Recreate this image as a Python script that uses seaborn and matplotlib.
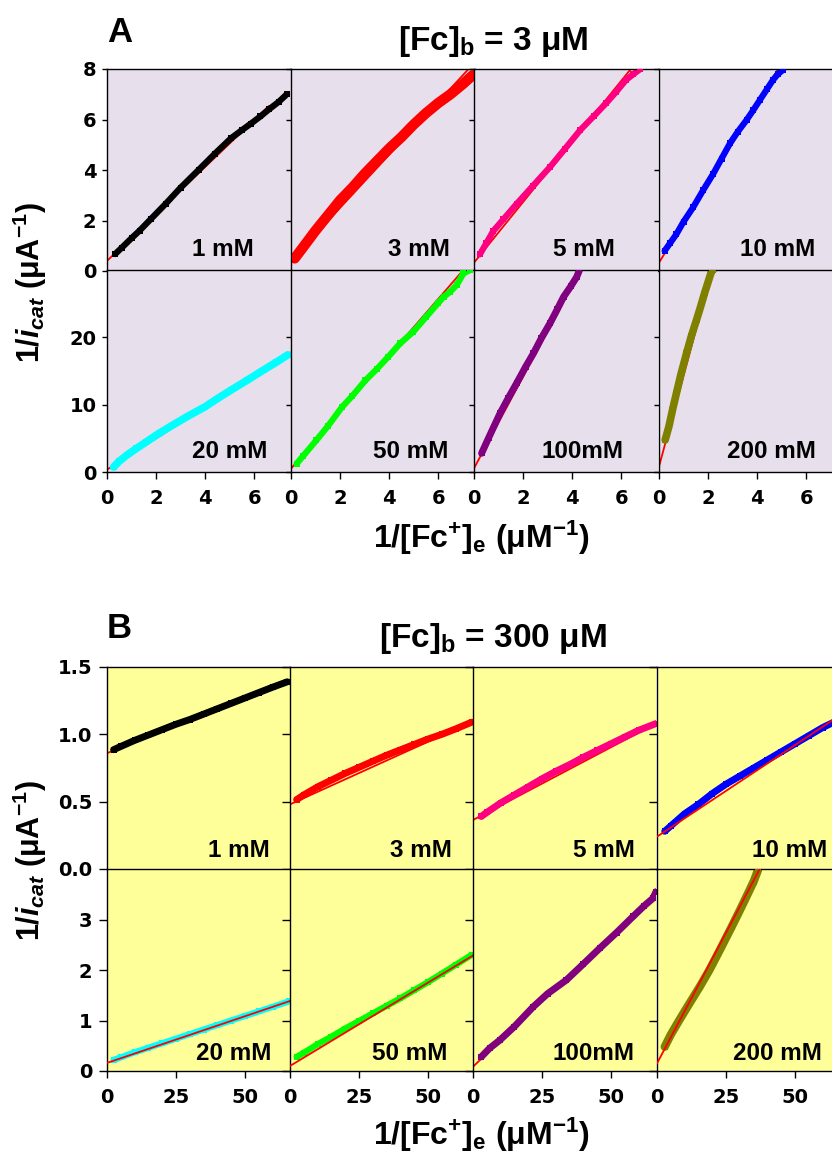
import matplotlib
matplotlib.use("Agg")
import matplotlib.pyplot as plt
import pandas as pd
import seaborn as sns

sns.set_theme(style="ticks")
plt.rcParams["font.family"] = ["Liberation Sans", "DejaVu Sans"]
plt.rcParams["font.weight"] = "bold"
plt.rcParams["mathtext.fontset"] = "custom"
plt.rcParams["mathtext.rm"] = "Liberation Sans:bold"
plt.rcParams["mathtext.it"] = "Liberation Sans:bold:italic"
plt.rcParams["mathtext.bf"] = "Liberation Sans:bold"
plt.rcParams["axes.edgecolor"] = "black"
plt.rcParams["axes.linewidth"] = 1.0
plt.rcParams["xtick.color"] = "black"
plt.rcParams["ytick.color"] = "black"
plt.rcParams["text.color"] = "black"
plt.rcParams["axes.labelcolor"] = "black"

# ---------------- data ----------------
conc_labels = ["1 mM", "3 mM", "5 mM", "10 mM", "20 mM", "50 mM", "100mM", "200 mM"]
series_colors = ["#000000", "#FF0000", "#FF0080", "#0000FF",
                 "#00FFFF", "#00FF00", "#800080", "#808000"]

# Panel A : [Fc]b = 3 uM
a1_x = [0.33, 0.6, 1.0, 1.33, 1.8, 2.4, 3.0, 3.73, 4.4, 5.07, 5.5, 5.87, 6.25, 6.6, 7.0, 7.33]
a1_y = [0.67, 0.92, 1.3, 1.6, 2.07, 2.67, 3.3, 4.0, 4.65, 5.27, 5.58, 5.84, 6.12, 6.4, 6.7, 7.0]
a3_x = [0.15, 0.5, 1.0, 1.5, 2.0, 2.5, 3.0, 3.5, 4.0, 4.5, 5.0, 5.5, 6.0, 6.5, 7.0, 7.4]
a3_y = [0.5, 0.95, 1.6, 2.2, 2.8, 3.3, 3.85, 4.35, 4.85, 5.3, 5.8, 6.25, 6.65, 7.0, 7.4, 7.75]
a5_x = [0.24, 0.5, 0.79, 1.2, 1.74, 2.4, 3.1, 3.7, 4.33, 4.9, 5.38, 5.8, 6.2, 6.5, 6.78]
a5_y = [0.66, 1.1, 1.59, 2.05, 2.66, 3.37, 4.12, 4.83, 5.58, 6.15, 6.64, 7.1, 7.57, 7.8, 8.0]
a10_x = [0.23, 0.45, 0.71, 1.0, 1.39, 1.8, 2.21, 2.55, 2.89, 3.2, 3.57, 3.85, 4.11, 4.4, 4.65, 4.85, 5.06]
a10_y = [0.8, 1.1, 1.46, 1.95, 2.52, 3.2, 3.85, 4.45, 5.05, 5.5, 5.98, 6.38, 6.77, 7.2, 7.57, 7.8, 7.97]
a20_x = [0.27, 0.5, 0.8, 1.2, 1.6, 2.1, 2.67, 3.3, 4.0, 4.5, 5.07, 5.7, 6.4, 6.9, 7.37]
a20_y = [0.74, 1.6, 2.48, 3.5, 4.47, 5.7, 6.95, 8.3, 9.7, 10.9, 12.2, 13.6, 15.2, 16.3, 17.4]
a50_x = [0.23, 0.5, 1.03, 1.5, 2.09, 2.5, 3.03, 3.5, 3.96, 4.45, 4.99, 5.5, 6.0, 6.22, 6.5, 6.76, 7.03, 7.3]
a50_y = [1.24, 2.4, 4.7, 6.8, 9.7, 11.3, 13.6, 15.3, 17.1, 19.1, 20.85, 23.0, 25.1, 26.0, 26.8, 27.8, 29.5, 30.0]
a100_x = [0.31, 0.6, 1.06, 1.4, 1.74, 2.1, 2.42, 2.75, 3.1, 3.4, 3.65, 3.95, 4.19, 4.3]
a100_y = [2.78, 5.1, 8.7, 11.0, 13.2, 15.6, 17.6, 19.9, 22.1, 24.2, 26.0, 27.6, 29.0, 30.0]
a200_x = [0.25, 0.4, 0.55, 0.71, 0.9, 1.12, 1.32, 1.53, 1.7, 1.86, 2.0, 2.14, 2.2]
a200_y = [4.75, 6.7, 9.2, 11.7, 14.6, 17.6, 20.2, 22.6, 24.6, 26.6, 28.2, 29.8, 30.0]

a_fit_intercept = [0.4, 0.4, 0.33, 0.33, 0.35, 0.5, 0.55, 0.8]
a_fit_slope = [0.93, 1.05, 1.2, 1.58, 2.32, 4.2, 6.8, 13.5]
a_fit_xend = [6.6, 7.2, 6.4, 4.84, 7.5, 7.02, 4.33, 2.15]

# Panel B : [Fc]b = 300 uM
b1_x = [2.4, 5, 10, 15, 20, 25, 30, 35, 40, 45, 50, 55, 60, 65.3]
b1_y = [0.886, 0.91, 0.955, 0.995, 1.035, 1.075, 1.11, 1.15, 1.19, 1.23, 1.27, 1.31, 1.35, 1.39]
b3_x = [2.4, 5, 10, 15, 20, 25, 30, 35, 40, 45, 50, 55, 60, 65.8]
b3_y = [0.515, 0.55, 0.61, 0.66, 0.71, 0.755, 0.80, 0.845, 0.885, 0.925, 0.965, 1.0, 1.04, 1.09]
b5_x = [3, 5, 10, 15, 20, 25, 30, 35, 40, 45, 50, 55, 60, 66.3]
b5_y = [0.39, 0.42, 0.49, 0.55, 0.61, 0.67, 0.725, 0.775, 0.83, 0.88, 0.93, 0.98, 1.03, 1.08]
b10_x = [2.8, 5, 10, 15, 20, 25, 30, 35, 40, 45, 50, 55, 60, 65]
b10_y = [0.28, 0.32, 0.41, 0.48, 0.56, 0.63, 0.69, 0.75, 0.81, 0.87, 0.93, 0.99, 1.05, 1.1]
b20_x = [2.4, 5, 10, 15, 20, 25, 30, 35, 40, 45, 50, 55, 60, 66]
b20_y = [0.22, 0.27, 0.37, 0.46, 0.55, 0.64, 0.73, 0.82, 0.91, 1.0, 1.09, 1.18, 1.27, 1.38]
b50_x = [2.4, 5, 10, 15, 20, 25, 30, 35, 40, 45, 50, 55, 60, 65.8]
b50_y = [0.28, 0.36, 0.53, 0.68, 0.84, 0.99, 1.14, 1.29, 1.44, 1.60, 1.76, 1.93, 2.10, 2.30]
b100_x = [3, 6, 9.7, 15, 21.8, 27, 33.8, 40, 45.9, 52, 58, 62, 65.2, 66.3]
b100_y = [0.28, 0.45, 0.61, 0.88, 1.27, 1.53, 1.80, 2.12, 2.43, 2.74, 3.06, 3.27, 3.42, 3.55]
b200_x = [2.8, 5, 8, 11, 15.5, 19, 23, 27, 30, 33, 35, 36.6]
b200_y = [0.48, 0.72, 1.0, 1.27, 1.67, 2.0, 2.42, 2.85, 3.18, 3.52, 3.75, 3.98]

b_fit_intercept = [0.86, 0.48, 0.364, 0.24, 0.16, 0.10, 0.085, 0.15]
b_fit_slope = [0.0081, 0.0093, 0.0108, 0.0136, 0.0185, 0.033, 0.052, 0.1035]
b_fit_xend = [66.3, 66.3, 66.3, 66.3, 66.3, 66.3, 66.3, 37.2]

# tick labels
a_xticks = [0, 2, 4, 6]
a_yticks_top = [0, 2, 4, 6, 8]
a_yticks_bot = [0, 10, 20]
b_xticks = [0, 25, 50]
b_yticks_top = [0.0, 0.5, 1.0, 1.5]
b_ytick_labels_top = ["0.0", "0.5", "1.0", "1.5"]
b_yticks_bot = [0, 1, 2, 3]

# ---------------- layout (pixels) ----------------
W, H = 832, 1158
a_series = [(a1_x, a1_y), (a3_x, a3_y), (a5_x, a5_y), (a10_x, a10_y),
            (a20_x, a20_y), (a50_x, a50_y), (a100_x, a100_y), (a200_x, a200_y)]
b_series = [(b1_x, b1_y), (b3_x, b3_y), (b5_x, b5_y), (b10_x, b10_y),
            (b20_x, b20_y), (b50_x, b50_y), (b100_x, b100_y), (b200_x, b200_y)]

a_cols = [107, 291, 474, 659]
a_colw = 184
a_rows = [69, 270]
a_rowh = 202
b_cols = [107, 290, 473, 657]
b_colw = 183
b_rows = [667, 869]
b_rowh = 202

a_band = [4.5, 7.5, 4.5, 4.5, 5.5, 4.5, 5.0, 5.5]
b_band = [5.0, 5.0, 5.0, 5.0, 4.5, 4.5, 5.0, 6.0]
b_fit_top = [False, False, False, True, True, True, False, True]

a_lab_x = [0.80, 0.865, 0.766, 0.851, 0.87, 0.853, 0.81, 0.85]
a_lab_y = [0.075, 0.075, 0.075, 0.075, 0.07, 0.07, 0.07, 0.07]
b_lab_x = [0.89, 0.885, 0.885, 0.93, 0.90, 0.86, 0.885, 0.90]
b_lab_y = [0.06, 0.06, 0.06, 0.06, 0.055, 0.055, 0.055, 0.055]

fig = plt.figure(figsize=(W / 100, H / 100), dpi=100)


def rect(l, t, w, h):
    return [l / W, 1 - (t + h) / H, w / W, h / H]


def draw_panel(ax, xs, ys, color, band, b0, m, xend, fit_top):
    df = pd.DataFrame({"x": xs, "y": ys})
    sns.lineplot(data=df, x="x", y="y", ax=ax, color=color, lw=band,
                 sort=False, estimator=None, zorder=2)
    sns.scatterplot(data=df, x="x", y="y", ax=ax, color=color, marker="s",
                    s=22, linewidth=0, zorder=3)
    fit = pd.DataFrame({"x": [0.0, xend], "y": [b0, b0 + m * xend]})
    sns.lineplot(data=fit, x="x", y="y", ax=ax, color="red", lw=1.3,
                 sort=False, estimator=None, zorder=4 if fit_top else 1.5)
    ax.set_xlabel("")
    ax.set_ylabel("")


def build(cols, colw, rows, rowh, series, fit_b, fit_m, fit_x, bands, fit_top,
          bg, xlim, ylims, xticks, yticks, ytlabels, labx, laby, ylen, xlen, ypad, xpad):
    for i in range(8):
        r, c = divmod(i, 4)
        ax = fig.add_axes(rect(cols[c], rows[r], colw, rowh))
        ax.set_facecolor(bg)
        xs, ys = series[i]
        draw_panel(ax, xs, ys, series_colors[i], bands[i], fit_b[i], fit_m[i],
                   fit_x[i], fit_top[i])
        ax.set_xlim(*xlim)
        ax.set_ylim(*ylims[r])
        ax.set_yticks(yticks[r], labels=ytlabels[r])
        ax.set_xticks(xticks, labels=[str(t) for t in xticks])
        for s in ax.spines.values():
            s.set_visible(True)
            s.set_color("black")
            s.set_linewidth(1.0)
        if c < 3:
            ax.spines["right"].set_visible(False)
        if r == 0:
            ax.spines["bottom"].set_visible(False)
        ax.tick_params(axis="both", labelsize=14, labelfontfamily="DejaVu Sans",
                       labelcolor="black")
        ax.tick_params(axis="y", direction="out", length=ylen, width=1.0, pad=ypad)
        ax.tick_params(axis="x", direction="out", length=xlen, width=1.0, pad=xpad)
        for lbl in ax.get_xticklabels() + ax.get_yticklabels():
            lbl.set_fontweight("bold")
        if c > 0:
            ax.tick_params(axis="y", labelleft=False)
        if r == 0:
            ax.tick_params(axis="x", bottom=False, labelbottom=False)
        ax.text(labx[i], laby[i], conc_labels[i], transform=ax.transAxes,
                ha="right", va="baseline", fontsize=17.5, fontweight="bold",
                color="black", zorder=6)


build(a_cols, a_colw, a_rows, a_rowh, a_series, a_fit_intercept, a_fit_slope,
      a_fit_xend, a_band, [False] * 8, "#E8DFEC", (0, 7.5), [(0, 8), (0, 30)],
      a_xticks, [a_yticks_top, a_yticks_bot],
      [[str(t) for t in a_yticks_top], [str(t) for t in a_yticks_bot]],
      a_lab_x, a_lab_y, 3.6, 5.0, 4.0, 7.0)

build(b_cols, b_colw, b_rows, b_rowh, b_series, b_fit_intercept, b_fit_slope,
      b_fit_xend, b_band, b_fit_top, "#FFFF99", (0, 66.3), [(0, 1.5), (0, 4)],
      b_xticks, [b_yticks_top, b_yticks_bot],
      [b_ytick_labels_top, [str(t) for t in b_yticks_bot]],
      b_lab_x, b_lab_y, 5.5, 5.0, 5.0, 7.5)

# ---------------- figure texts ----------------
def ftext(x, y, s, **kw):
    fig.text(x / W, 1 - y / H, s, color="black", **kw)


ftext(107, 42, "A", fontsize=25, fontweight="bold", ha="left", va="baseline")
ftext(107, 638, "B", fontsize=25, fontweight="bold", ha="left", va="baseline")
ftext(493, 50, r"$\mathrm{[Fc]_{b}}$ = 3 μM", fontsize=24, fontweight="bold",
      ha="center", va="baseline")
ftext(493, 647, r"$\mathrm{[Fc]_{b}}$ = 300 μM", fontsize=24, fontweight="bold",
      ha="center", va="baseline")

xlab = r"$\mathrm{1/[Fc^{+}]_{e}}$ $\mathrm{(μM^{-1})}$"
ylab = r"$\mathrm{1/}\mathit{i}_{\mathit{cat}}$ $\mathrm{(μA^{-1})}$"
ftext(481, 548, xlab, fontsize=23, fontweight="bold", ha="center", va="baseline")
ftext(481, 1145, xlab, fontsize=23, fontweight="bold", ha="center", va="baseline")
ftext(30, 282, ylab, fontsize=22, fontweight="bold", ha="center", va="center", rotation=90)
ftext(30, 860, ylab, fontsize=22, fontweight="bold", ha="center", va="center", rotation=90)

fig.savefig("out.png", dpi=100, facecolor="white")
